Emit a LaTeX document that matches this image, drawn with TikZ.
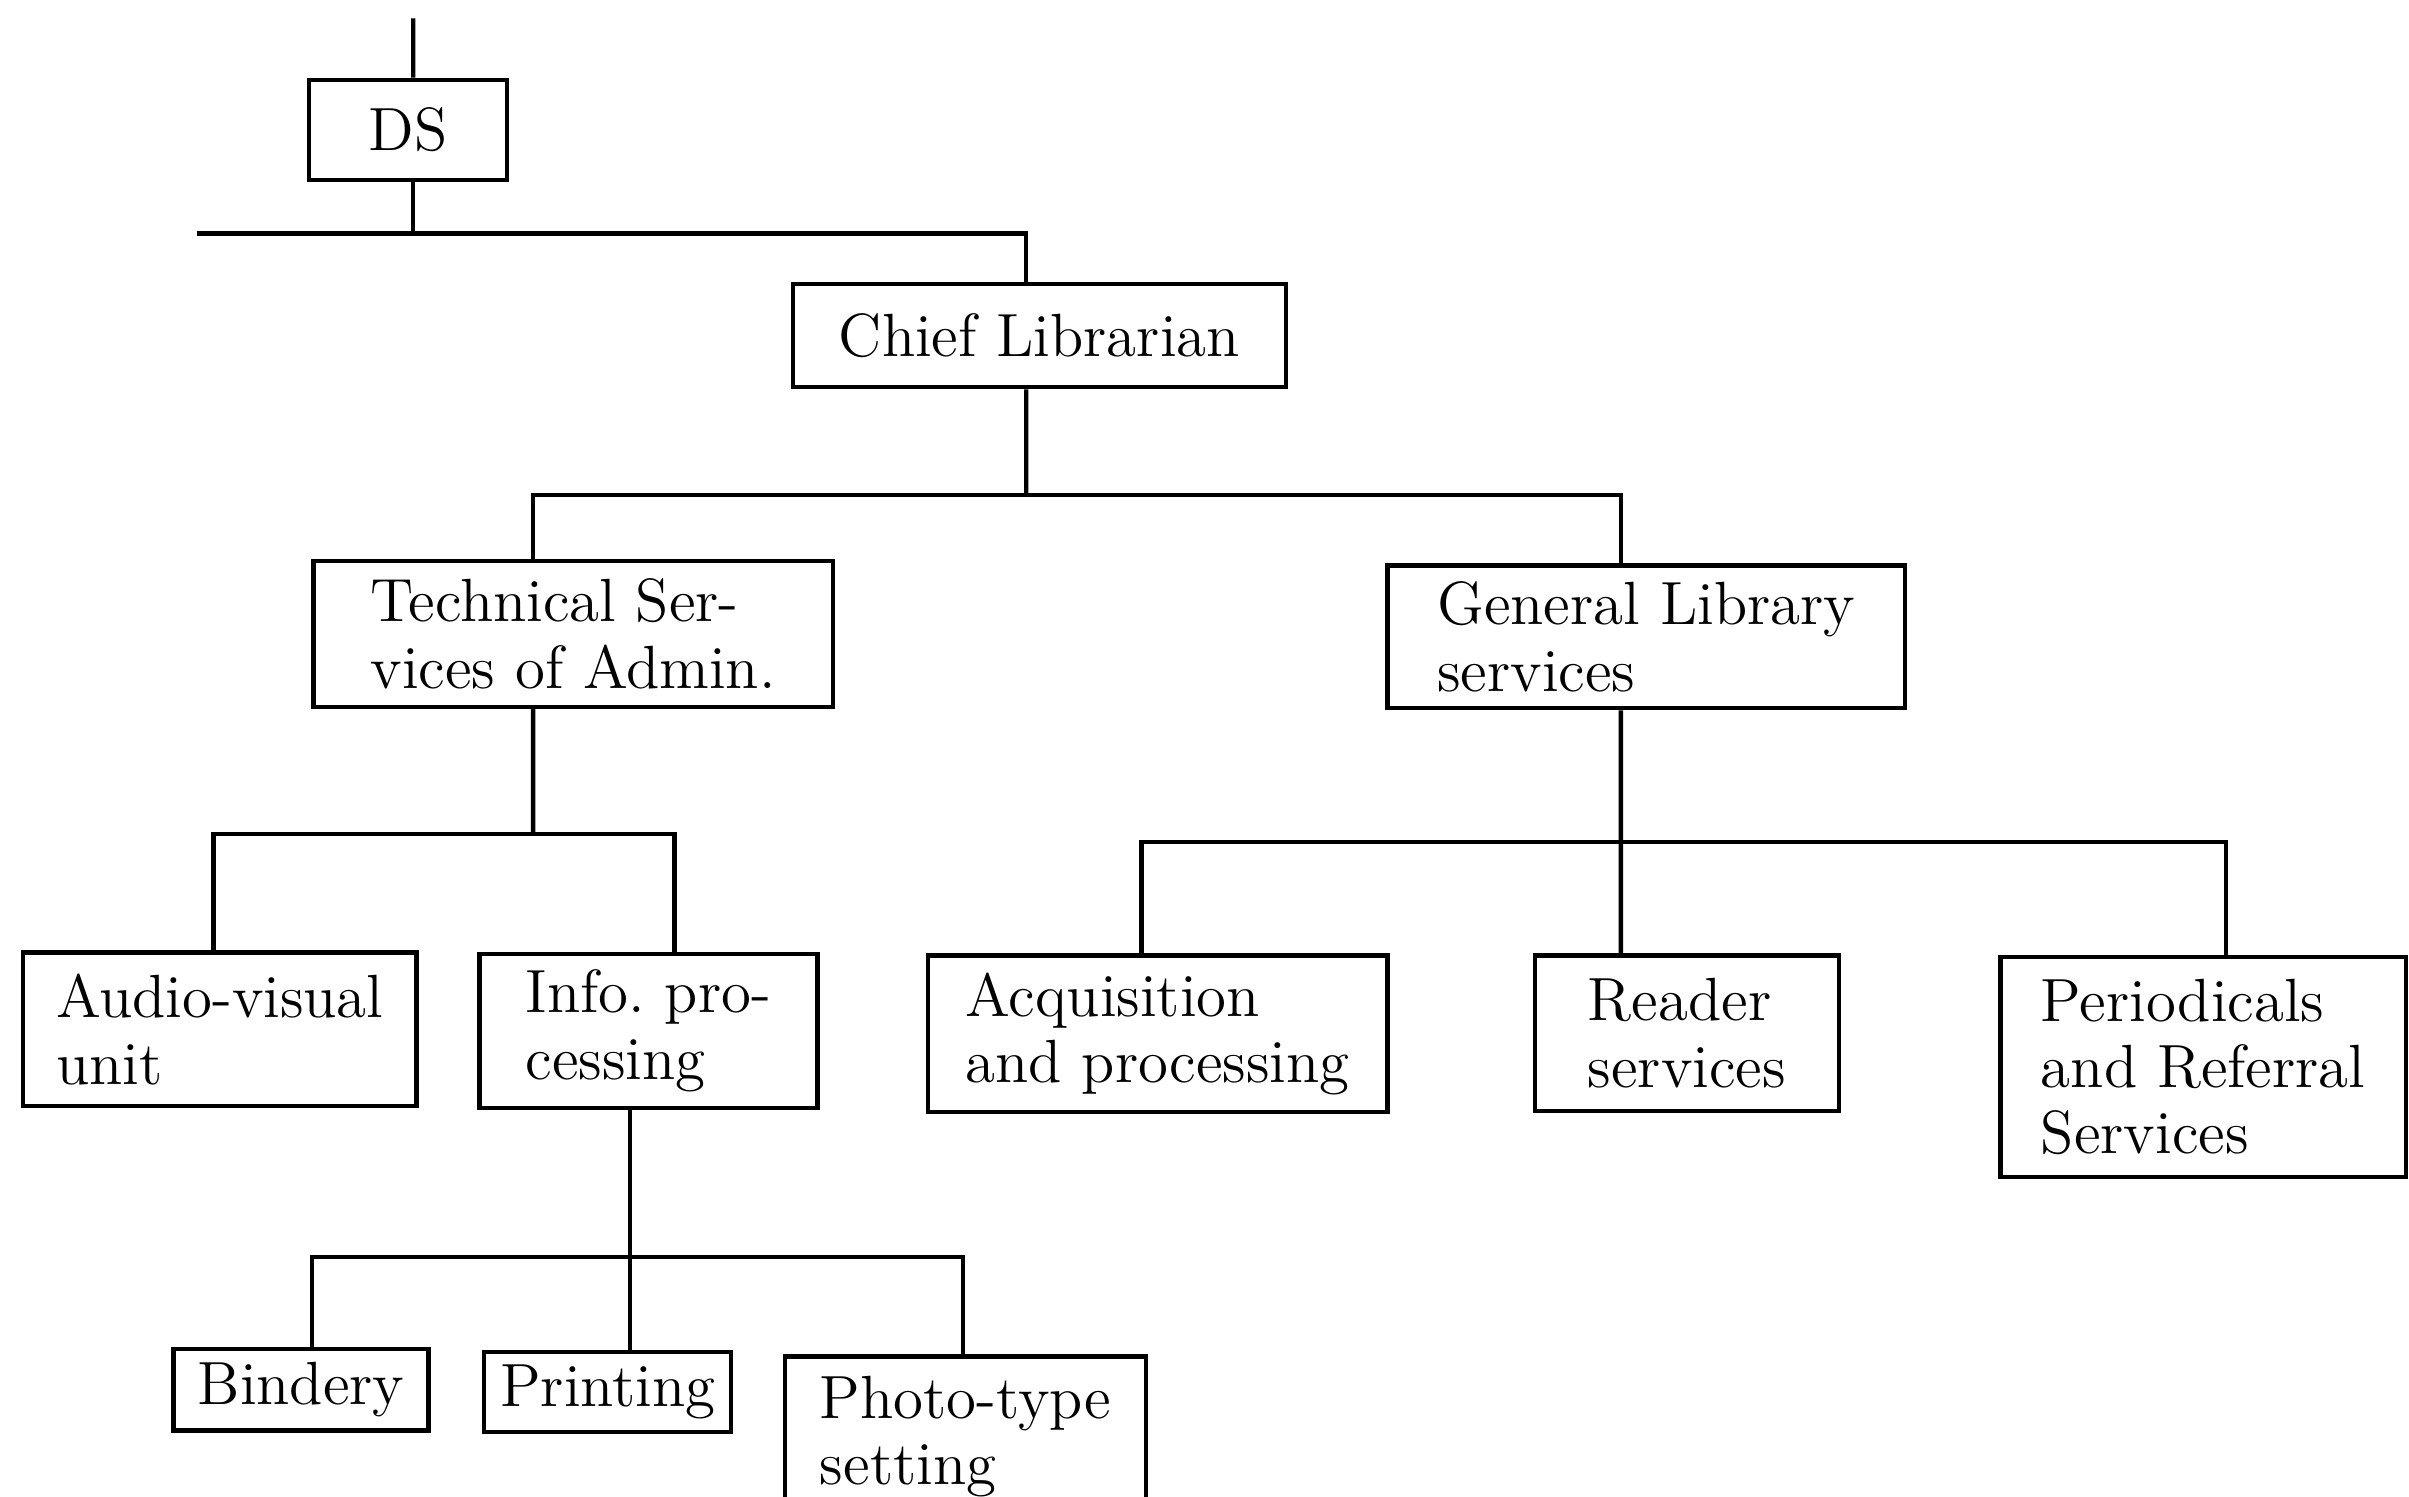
\documentclass[tikz,border=0pt]{standalone}
\usepackage{tikz}
\usetikzlibrary{positioning}
\usetikzlibrary{calc}
\tikzset{unitBox/.style={draw, line width=0.8pt, align=left, inner sep=0pt, font=\fontsize{11.3}{12.3}\selectfont}}
\tikzset{orgLine/.style={line width=0.8pt}}

\begin{document}
\begin{tikzpicture}

\useasboundingbox (0,0) rectangle (15.68,-9.74);
\clip (0,0) rectangle (15.68,-9.74);

\node[unitBox, minimum width=1.29cm, minimum height=0.65cm] (ds) at (2.655, -0.845) {DS};
\node[unitBox, minimum width=3.21cm, minimum height=0.67cm] (chief) at (6.765, -2.185) {Chief Librarian};

\node[unitBox, minimum width=3.38cm, minimum height=0.95cm] (tech) at (3.73, -4.125) {Technical Ser-\\vices of Admin.};
\node[unitBox, minimum width=3.37cm, minimum height=0.93cm] (gen) at (10.715, -4.145) {General Library\\services};

\node[unitBox, minimum width=2.56cm, minimum height=1.00cm] (audio) at (1.43, -6.70) {Audio-visual\\unit};
\node[unitBox, minimum width=2.20cm, minimum height=1.00cm] (info) at (4.22, -6.71) {Info.\ pro-\\cessing};
\node[unitBox, minimum width=2.99cm, minimum height=1.02cm] (acq) at (7.535, -6.73) {Acquisition\\and processing};
\node[unitBox, minimum width=1.98cm, minimum height=1.01cm] (reader) at (10.98, -6.725) {Reader\\services};
\node[unitBox, minimum width=2.64cm, minimum height=1.43cm] (period) at (14.34, -6.945) {Periodicals\\and Referral\\Services};

\node[unitBox, minimum width=1.66cm, minimum height=0.53cm] (bindery) at (1.96, -9.045) {Bindery};
\node[unitBox, minimum width=1.61cm, minimum height=0.52cm] (printing) at (3.955, -9.06) {Printing};
\node[unitBox, minimum width=2.35cm, minimum height=1.04cm] (photo) at (6.285, -9.35) {Photo-type\\setting};

\coordinate (top) at (2.69, -0.12);
\coordinate (bus1) at (1.28, -1.52);
\coordinate (bus2) at (6.68, -3.22);
\coordinate (bus3) at (3.47, -5.43);
\coordinate (bus4) at (10.55, -5.48);
\coordinate (bus5) at (4.10, -8.18);

\draw[orgLine] (top) -- ([xshift=0.35mm]ds.north);
\draw[orgLine] ([xshift=0.35mm]ds.south) -- ([xshift=0.35mm]ds.south |- bus1);
\draw[orgLine] (bus1) -| ([xshift=-0.85mm]chief.north);

\draw[orgLine] ([xshift=-0.85mm]chief.south) -- (bus2);
\draw[orgLine] ([xshift=-2.6mm]tech.north) |- (bus2) -| ([xshift=-1.65mm]gen.north);

\draw[orgLine] ([xshift=-2.6mm]tech.south) -- (bus3);
\draw[orgLine] ([xshift=-0.4mm]audio.north) |- (bus3) -| ([xshift=1.7mm]info.north);

\draw[orgLine] ([xshift=-1.65mm]gen.south) -- ([xshift=-4.3mm]reader.north);
\draw[orgLine] ([xshift=-1.05mm]acq.north) |- (bus4) -| ([xshift=1.5mm]period.north);

\draw[orgLine] ([xshift=-1.2mm]info.south) -- ([xshift=1.45mm]printing.north);
\draw[orgLine] ([xshift=0.7mm]bindery.north) |- (bus5) -| ([xshift=-0.15mm]photo.north);

\end{tikzpicture}
\end{document}
